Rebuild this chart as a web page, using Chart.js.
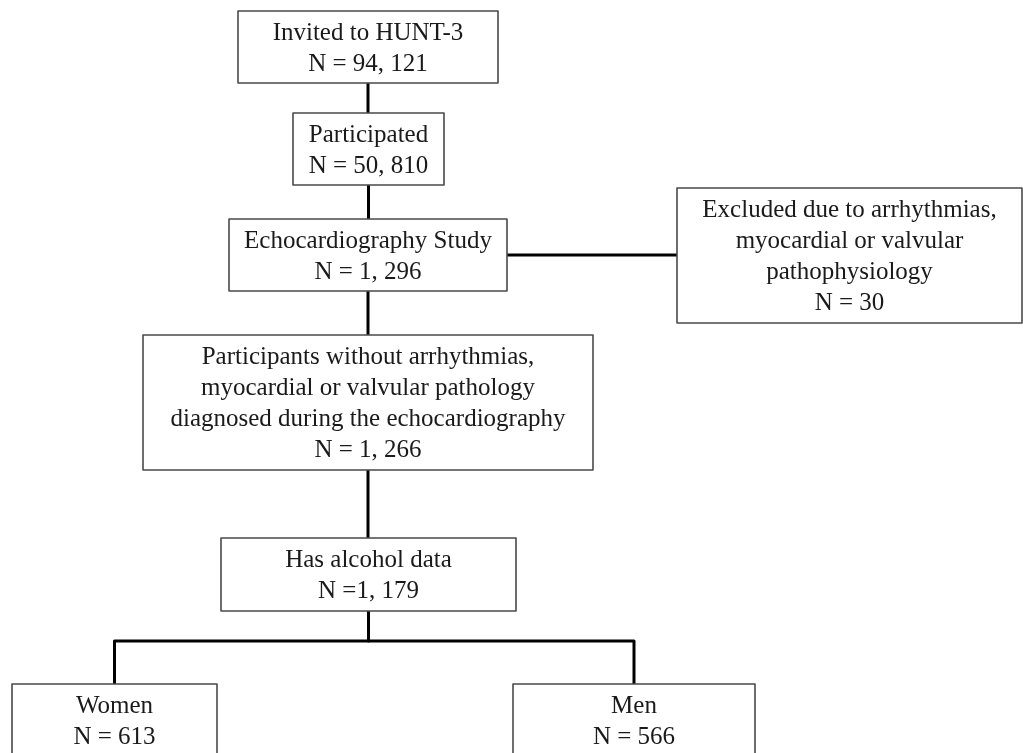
<!DOCTYPE html>
<html>
<head>
<meta charset="utf-8">
<script src="https://cdn.jsdelivr.net/npm/chart.js@4/dist/chart.umd.min.js"></script>
<style>
  html, body { margin: 0; padding: 0; background: #fff; overflow: hidden; }
  #wrap { width: 1023px; height: 753px; }
</style>
</head>
<body>
<div id="wrap"><canvas id="FlowChart" width="1023" height="753"></canvas></div>
<script>
// flow steps (text only)
const stepTitles = [
    ['Invited to HUNT-3'],
    ['Participated'],
    ['Echocardiography Study'],
    ['Excluded due to arrhythmias,', 'myocardial or valvular', 'pathophysiology'],
    ['Participants without arrhythmias,', 'myocardial or valvular pathology', 'diagnosed during the echocardiography'],
    ['Has alcohol data'],
    ['Women'],
    ['Men']
];
const stepCounts = ['N = 94, 121', 'N = 50, 810', 'N = 1, 296', 'N = 30', 'N = 1, 266', 'N =1, 179', 'N = 613', 'N = 566'];
// parent -> child links
const links = [[0, 1], [1, 2], [2, 3], [2, 4], [4, 5], [5, 6], [5, 7]];

// layout of the boxes in page units [left, top, right, bottom]
const boxes = [
    [238, 11, 498, 83],
    [293, 113, 444, 185],
    [229, 219, 507, 291],
    [677, 188, 1022, 323],
    [143, 335, 593, 470],
    [221, 538, 516, 611],
    [12, 684, 217, 775],
    [513, 684, 755, 775]
];
const splitY = 641;

const flowPlugin = {
    id: 'flow',
    afterDraw(chart){
        const ctx = chart.ctx;
        const sx = chart.scales.x;
        const sy = chart.scales.y;
        const px = v => sx.getPixelForValue(v);
        const py = v => sy.getPixelForValue(v);

        ctx.save();
        // connectors
        ctx.strokeStyle = '#000';
        ctx.lineWidth = 3;
        ctx.lineCap = 'butt';
        ctx.lineJoin = 'round';
        for (const [a, b] of links){
            const p = boxes[a], c = boxes[b];
            const pcx = (p[0] + p[2]) / 2, ccx = (c[0] + c[2]) / 2;
            ctx.beginPath();
            if (c[0] > p[2]){
                const y = (p[1] + p[3]) / 2;
                ctx.moveTo(px(p[2]), py(y));
                ctx.lineTo(px(c[0]), py(y));
            } else if (Math.abs(pcx - ccx) < 3){
                ctx.moveTo(px(pcx), py(p[3]));
                ctx.lineTo(px(pcx), py(c[1]));
            } else {
                ctx.moveTo(px(pcx), py(p[3]));
                ctx.lineTo(px(pcx), py(splitY));
                ctx.lineTo(px(ccx), py(splitY));
                ctx.lineTo(px(ccx), py(c[1]));
            }
            ctx.stroke();
        }

        // boxes and text
        ctx.font = '25px "Liberation Serif", "Times New Roman", serif';
        ctx.textAlign = 'center';
        ctx.textBaseline = 'middle';
        boxes.forEach((b, i) => {
            ctx.fillStyle = '#fff';
            ctx.fillRect(px(b[0]), py(b[1]), px(b[2]) - px(b[0]), py(b[3]) - py(b[1]));
            ctx.strokeStyle = '#4a4a4a';
            ctx.lineWidth = 1.6;
            ctx.strokeRect(px(b[0]), py(b[1]), px(b[2]) - px(b[0]), py(b[3]) - py(b[1]));
            const lines = stepTitles[i].concat([stepCounts[i]]);
            const cx = (b[0] + b[2]) / 2;
            ctx.fillStyle = '#1a1a1a';
            lines.forEach((t, k) => {
                ctx.fillText(t, px(cx), py(b[1] + 22 + k * 31));
            });
        });
        ctx.restore();
    }
};

const config = {
    type: 'scatter',
    data: { datasets: [{ data: [], pointRadius: 0 }] },
    options: {
        responsive: false,
        animation: false,
        layout: { padding: 0 },
        scales: {
            x: { type: 'linear', min: 0, max: 1023, display: false },
            y: { type: 'linear', min: 0, max: 753, reverse: true, display: false }
        },
        plugins: {
            legend: { display: false },
            tooltip: { enabled: false }
        }
    },
    plugins: [flowPlugin]
};

const flowChart = new Chart(document.getElementById('FlowChart').getContext('2d'), config);
</script>
</body>
</html>
